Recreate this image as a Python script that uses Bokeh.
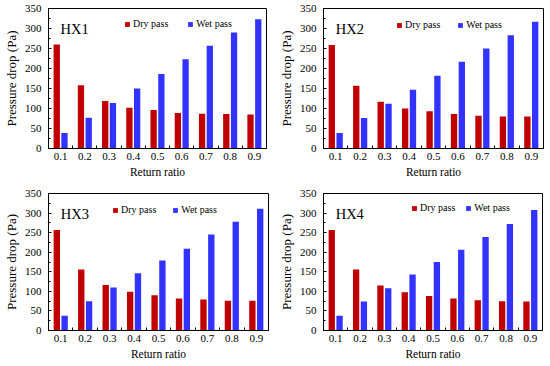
from bokeh.plotting import figure
from bokeh.layouts import column, row
from bokeh.models import (Range1d, FixedTicker, SingleIntervalTicker, PrintfTickFormatter,
                          Legend, LegendItem, Label)
from bokeh.embed import file_html
from bokeh.resources import INLINE

# ---- data ----
ratios = [0.1, 0.2, 0.3, 0.4, 0.5, 0.6, 0.7, 0.8, 0.9]
hx1_dry = [260, 158, 119, 102, 96, 89, 87, 86, 85]
hx1_wet = [39, 77, 114, 150, 186, 223, 257, 290, 323]
hx2_dry = [259, 157, 117, 100, 93, 86, 82, 80, 80]
hx2_wet = [39, 76, 112, 147, 182, 217, 250, 283, 317]
hx3_dry = [257, 156, 116, 99, 90, 82, 79, 76, 76]
hx3_wet = [38, 75, 110, 146, 179, 209, 245, 278, 311]
hx4_dry = [257, 156, 115, 98, 88, 82, 77, 75, 74]
hx4_wet = [38, 74, 108, 143, 175, 206, 239, 272, 308]
panel_names = ["HX1", "HX2", "HX3", "HX4"]
series_labels = ["Dry pass", "Wet pass"]
y_label = "Pressure drop (Pa)"
x_label = "Return ratio"

RED = "#C00000"
BLUE = "#3333FF"
FONT = "Liberation Serif"


def make_panel(name, dry, wet, w, h, bl, bt, br, bb, leg_x, leg_y, leg_sp):
    p = figure(width=w, height=h, output_backend="svg", toolbar_location=None,
               x_range=Range1d(0.05, 0.95), y_range=Range1d(0, 350),
               min_border_left=bl, min_border_top=bt, min_border_right=br,
               min_border_bottom=bb)
    p.xgrid.visible = False
    p.ygrid.visible = False
    p.outline_line_color = "black"
    p.outline_line_width = 1
    p.background_fill_color = "white"
    p.border_fill_color = "white"

    xd = [r - 0.016 for r in ratios]
    xw = [r + 0.016 for r in ratios]
    r_dry = p.vbar(x=xd, top=dry, width=0.026, fill_color=RED, line_color=None)
    r_wet = p.vbar(x=xw, top=wet, width=0.026, fill_color=BLUE, line_color=None)

    bounds = [r + 0.05 for r in ratios[:-1]]
    xa = p.xaxis[0]
    xa.ticker = FixedTicker(ticks=ratios, minor_ticks=bounds)
    xa.formatter = PrintfTickFormatter(format="%.1f")
    xa.major_tick_in = 0
    xa.major_tick_out = 0
    xa.minor_tick_in = 3
    xa.minor_tick_out = 0
    xa.axis_label = x_label
    xa.major_label_standoff = 4
    xa.axis_label_standoff = 3

    ya = p.yaxis[0]
    ya.ticker = SingleIntervalTicker(interval=50, num_minor_ticks=2)
    ya.major_tick_in = 3
    ya.major_tick_out = 0
    ya.minor_tick_in = 2
    ya.minor_tick_out = 0
    ya.axis_label = y_label
    ya.major_label_standoff = 7
    ya.axis_label_standoff = 3

    for ax in (xa, ya):
        ax.axis_line_color = "black"
        ax.major_tick_line_color = "black"
        ax.minor_tick_line_color = "black"
        ax.major_label_text_font = FONT
        ax.major_label_text_font_size = "11px"
        ax.major_label_text_color = "black"
        ax.axis_label_text_font = FONT
        ax.axis_label_text_font_style = "normal"
        ax.axis_label_text_color = "black"
    xa.axis_label_text_font_size = "11.5px"
    ya.axis_label_text_font_size = "13px"

    legend = Legend(items=[LegendItem(label=series_labels[0], renderers=[r_dry]),
                           LegendItem(label=series_labels[1], renderers=[r_wet])],
                    location=(leg_x, leg_y), orientation="horizontal",
                    border_line_color=None, background_fill_alpha=0,
                    padding=0, margin=0, spacing=leg_sp,
                    glyph_width=6, glyph_height=6, label_standoff=3,
                    label_height=10, label_width=0,
                    label_text_font=FONT, label_text_font_size="10px",
                    label_text_color="black")
    p.add_layout(legend)

    p.add_layout(Label(x=0.1, y=298, text=name, text_font=FONT,
                       text_font_size="14.5px", text_align="left",
                       text_baseline="alphabetic", text_color="black"))
    return p


p1 = make_panel(panel_names[0], hx1_dry, hx1_wet, 275, 183, 42, 8, 9, 35, 76, 119, 19)
p2 = make_panel(panel_names[1], hx2_dry, hx2_wet, 275, 183, 47, 7, 7, 34, 73, 118, 17)
p3 = make_panel(panel_names[2], hx3_dry, hx3_wet, 275, 183, 42, 10, 7, 36, 64, 115, 16)
p4 = make_panel(panel_names[3], hx4_dry, hx4_wet, 275, 183, 42, 7, 8, 34, 88, 117, 10)

layout = column(row(p1, p2, spacing=0), row(p3, p4, spacing=0), spacing=0)

open("out.html", "w").write(file_html(layout, INLINE))
